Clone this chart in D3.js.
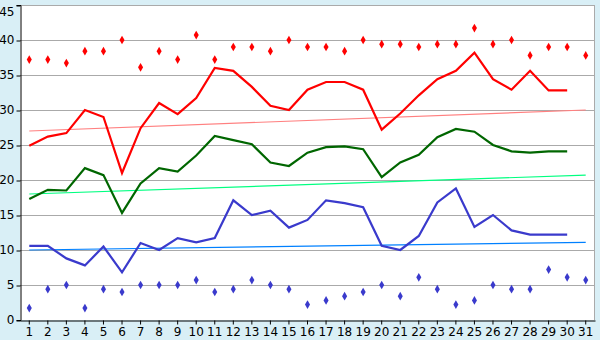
<!DOCTYPE html>
<html><head><meta charset="utf-8">
<script src="https://cdn.jsdelivr.net/npm/d3@7"></script>
<style>
html,body{margin:0;padding:0;background:#d9eff6;}
svg{display:block;}
text{font-family:"DejaVu Sans",sans-serif;font-size:12px;fill:#000;}
</style></head><body>
<svg id="c" width="600" height="340"></svg>
<script>
const days = d3.range(1, 32).map(String);
const yTicks = [0,5,10,15,20,25,30,35,40,45];
const maxLine = [24.9,26.2,26.7,30.0,29.0,21.0,27.4,31.0,29.4,31.7,36.0,35.6,33.3,30.6,30.0,32.9,34.0,34.0,32.9,27.2,29.5,32.1,34.4,35.6,38.2,34.4,32.9,35.6,32.8,32.8];
const meanLine = [17.3,18.6,18.5,21.7,20.7,15.3,19.5,21.7,21.2,23.5,26.3,25.7,25.1,22.5,22.0,23.9,24.7,24.8,24.4,20.4,22.5,23.6,26.1,27.3,26.9,25.0,24.1,23.9,24.1,24.1];
const minLine = [10.6,10.6,8.8,7.8,10.5,6.8,11.0,10.0,11.7,11.1,11.7,17.1,15.0,15.6,13.2,14.3,17.1,16.7,16.1,10.6,10.0,12.0,16.8,18.8,13.3,15.0,12.8,12.2,12.2,12.2];
const recordMax = [37.2,37.2,36.7,38.4,38.4,40.0,36.1,38.4,37.2,40.7,37.2,39.0,39.0,38.4,40.0,39.0,39.0,38.4,40.0,39.4,39.4,39.0,39.4,39.4,41.7,39.4,40.0,37.8,39.0,39.0,37.8];
const recordMin = [1.7,4.4,5.0,1.7,4.4,4.0,5.0,5.0,5.0,5.7,4.0,4.4,5.7,5.0,4.4,2.2,2.8,3.4,4.0,5.0,3.4,6.1,4.4,2.2,2.8,5.0,4.4,4.4,7.2,6.1,5.7];
const trendMax = [27.0, 30.0];
const trendMean = [18.0, 20.7];
const trendMin = [10.0, 11.1];

const svg = d3.select("#c");
const L = 20, R = 595, T = 5, B = 320;
const x = d3.scaleBand().domain(days).range([L, R]);
const cx = d => x(d) + x.bandwidth()/2;
const y = d3.scaleLinear().domain([0, 45]).range([B, T]);

svg.append("rect").attr("x", L).attr("y", T).attr("width", R-L).attr("height", B-T).attr("fill", "#fff");

// grid
svg.append("g").selectAll("line").data(yTicks.filter(v => v > 0)).join("line")
  .attr("x1", L).attr("x2", R).attr("y1", d => y(d)+0.5).attr("y2", d => y(d)+0.5)
  .attr("stroke", "#aaa").attr("stroke-width", 1);
svg.append("line").attr("x1", R-0.5).attr("x2", R-0.5).attr("y1", T).attr("y2", B).attr("stroke", "#aaa");

// axes
const ya = svg.append("g").attr("transform", `translate(${L+0.5},0)`)
  .call(d3.axisLeft(y).tickValues(yTicks).tickSize(4).tickPadding(2));
ya.select(".domain").attr("stroke", "#000");
ya.selectAll(".tick line").attr("stroke", "#000").attr("transform", "translate(0,0.5)");
ya.selectAll("text").style("font-size", "12px")
  .attr("dy", d => d === 45 ? "0.9em" : "0.32em");
const xa = svg.append("g").attr("transform", `translate(0,${B+0.5})`)
  .call(d3.axisBottom(x).tickSize(4).tickPadding(3).tickSizeOuter(0));
xa.select(".domain").attr("stroke", "#000");
xa.selectAll(".tick line").attr("stroke", "#000");
xa.selectAll("text").style("font-size", "12px");

// trend lines
function trend(vals, color) {
  svg.append("line")
    .attr("x1", cx(days[0])).attr("x2", cx(days[days.length-1]))
    .attr("y1", y(vals[0])).attr("y2", y(vals[1]))
    .attr("stroke", color).attr("stroke-width", 1.2);
}
trend(trendMax, "#ff8080");
trend(trendMean, "#00ff80");
trend(trendMin, "#0080ff");

const line = d3.line().x((d, i) => cx(days[i])).y(d => y(d));
function series(vals, color) {
  svg.append("path").datum(vals).attr("d", line)
    .attr("fill", "none").attr("stroke", color).attr("stroke-width", 2.2)
    .attr("stroke-linejoin", "miter");
}
series(maxLine, "#ff0000");
series(meanLine, "#006600");
series(minLine, "#3a3acc");

const sym = d3.symbol().type(d3.symbolDiamond).size(22);
function marks(vals, color) {
  svg.append("g").selectAll("path").data(vals).join("path")
    .attr("d", sym)
    .attr("transform", (d, i) => `translate(${cx(days[i])},${y(d)})`)
    .attr("fill", color);
}
marks(recordMax, "#ff0000");
marks(recordMin, "#3a3acc");
</script>
</body></html>
